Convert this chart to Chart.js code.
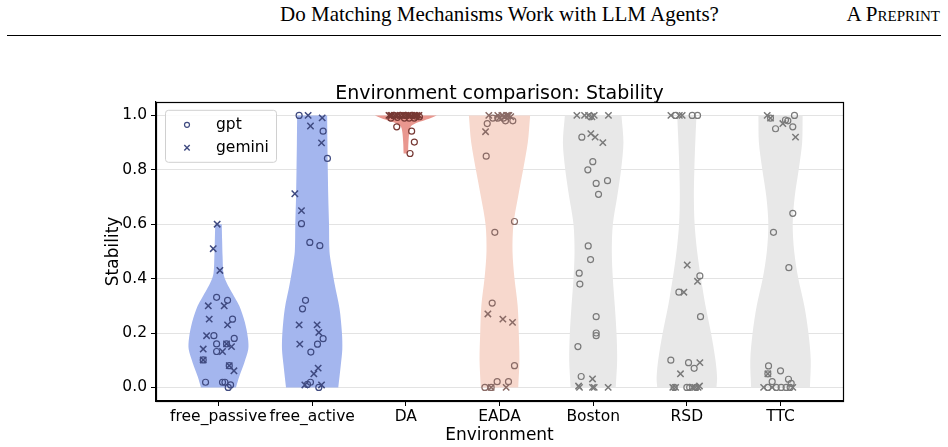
<!DOCTYPE html>
<html>
<head>
<meta charset="utf-8">
<script src="https://cdn.jsdelivr.net/npm/chart.js@4.4.1/dist/chart.umd.min.js"></script>
<style>
  html, body { margin: 0; padding: 0; background: #fff; }
  #page { position: relative; width: 948px; height: 447px; overflow: hidden; }
  #runhead { position: absolute; left: 0; top: 2px; width: 999px; text-align: center;
    font-family: "Liberation Serif", "Times New Roman", serif; font-size: 21px; color: #000; }
  #preprint { position: absolute; right: 8px; top: 2px; font-variant: small-caps;
    font-family: "Liberation Serif", "Times New Roman", serif; font-size: 21px; color: #000; }
  #rule { position: absolute; left: 7px; top: 35px; width: 934px; height: 1px; background: #000; }
  #chart { position: absolute; left: 0; top: 0; }
</style>
</head>
<body>
<div id="page">
  <div id="runhead">Do Matching Mechanisms Work with LLM Agents?</div>
  <div id="preprint">A Preprint</div>
  <div id="rule"></div>
  <canvas id="chart" width="948" height="447"></canvas>
</div>
<script>
// environments on the x axis
const categories = ['free_passive', 'free_active', 'DA', 'EADA', 'Boston', 'RSD', 'TTC'];
const yTicks = [0, 0.2, 0.4, 0.6, 0.8, 1.0];

// violin outlines: [stability, half width in category units]
const violinFreePassive = [[0, 0.187], [0.04, 0.222], [0.09, 0.275], [0.14, 0.318], [0.18, 0.315], [0.24, 0.281],
  [0.30, 0.222], [0.33, 0.175], [0.36, 0.125], [0.39, 0.08], [0.42, 0.053], [0.48, 0.044], [0.54, 0.039], [0.60, 0.035]];
const violinFreeActive = [[0, 0.279], [0.08, 0.305], [0.14, 0.322], [0.2, 0.318], [0.29, 0.292], [0.38, 0.24],
  [0.45, 0.205], [0.5, 0.185], [0.6, 0.18], [0.7, 0.172], [0.8, 0.167], [0.9, 0.163], [1.0, 0.16]];
const violinDA = [[0.86, 0.024], [0.90, 0.028], [0.94, 0.038], [0.96, 0.055], [0.972, 0.11], [0.982, 0.2],
  [0.992, 0.28], [1.0, 0.33]];
const violinEADA = [[0, 0.2], [0.1, 0.213], [0.2, 0.206], [0.3, 0.194], [0.4, 0.16], [0.5, 0.139], [0.6, 0.149],
  [0.7, 0.198], [0.8, 0.252], [0.9, 0.302], [1.0, 0.327]];
const violinBoston = [[0, 0.241], [0.1, 0.256], [0.2, 0.249], [0.3, 0.231], [0.4, 0.21], [0.5, 0.199], [0.6, 0.21],
  [0.7, 0.256], [0.8, 0.298], [0.9, 0.323], [1.0, 0.302]];
const violinRSD = [[0, 0.316], [0.035, 0.323], [0.1, 0.306], [0.2, 0.258], [0.3, 0.199], [0.4, 0.151], [0.5, 0.11],
  [0.6, 0.083], [0.7, 0.075], [0.8, 0.08], [0.9, 0.09], [1.0, 0.103]];
const violinTTC = [[0, 0.314], [0.1, 0.323], [0.2, 0.298], [0.3, 0.254], [0.4, 0.19], [0.5, 0.146], [0.6, 0.13],
  [0.7, 0.151], [0.8, 0.194], [0.9, 0.231], [1.0, 0.236]];

// runs: [jitter offset, stability]
const gptFreePassive = [[-0.02, 0.331], [0.097, 0.32], [0.15, 0.251], [-0.049, 0.19], [0.168, 0.18], [-0.02, 0.16],
  [0.086, 0.16], [-0.02, 0.132], [-0.163, 0.101], [0.115, 0.08], [-0.138, 0.019], [0.043, 0.019], [0.069, 0.019],
  [0.129, 0.009], [0.104, 0.0]];
const geminiFreePassive = [[-0.014, 0.6], [-0.056, 0.51], [0.015, 0.43], [-0.109, 0.30], [0.061, 0.30], [-0.099, 0.251],
  [0.097, 0.23], [-0.127, 0.19], [0.086, 0.16], [0.139, 0.15], [-0.163, 0.141], [0.043, 0.132], [-0.163, 0.101],
  [0.115, 0.08], [0.165, 0.061]];
const gptFreeActive = [[-0.139, 1.0], [0.117, 0.942], [0.163, 0.842], [-0.114, 0.602], [-0.025, 0.533], [0.082, 0.521],
  [-0.071, 0.32], [-0.103, 0.289], [0.117, 0.179], [0.057, 0.159], [-0.014, 0.13], [-0.018, 0.019], [-0.05, 0.011],
  [0.071, 0.0]];
const geminiFreeActive = [[-0.043, 1.0], [0.107, 0.991], [-0.018, 0.961], [0.1, 0.899], [-0.185, 0.712], [-0.114, 0.65],
  [-0.139, 0.23], [0.053, 0.23], [0.071, 0.202], [-0.132, 0.159], [0.064, 0.071], [0.018, 0.05], [-0.078, 0.009],
  [0.1, 0.009]];
const gptDA = [[-0.097, 0.958], [0.062, 0.942], [0.091, 0.902], [0.045, 0.86], [-0.16, 0.99], [-0.13, 1.0],
  [-0.09, 0.993], [-0.015, 0.99], [0.0, 1.0], [0.035, 0.99], [0.07, 1.0], [0.11, 0.997], [0.145, 0.995],
  [-0.06, 1.0], [0.09, 0.99]];
const geminiDA = [[-0.18, 1.0], [-0.15, 1.0], [-0.12, 1.0], [-0.09, 1.0], [-0.06, 1.0], [-0.03, 1.0], [0.0, 1.0],
  [0.03, 1.0], [0.06, 1.0], [0.09, 1.0], [0.12, 1.0], [0.14, 1.0], [-0.16, 1.0], [0.02, 1.0], [0.1, 1.0]];
const gptEADA = [[-0.131, 0.97], [-0.142, 0.85], [0.16, 0.61], [-0.05, 0.57], [-0.078, 0.31], [0.16, 0.08],
  [-0.025, 0.021], [0.096, 0.021], [-0.156, 0.0], [-0.089, 0.0], [-0.071, 0.99], [-0.018, 0.99], [0.043, 0.99],
  [0.064, 0.98], [0.142, 0.98]];
const geminiEADA = [[-0.149, 0.94], [-0.124, 0.27], [0.036, 0.251], [0.139, 0.239], [-0.089, 0.0], [0.071, 0.0],
  [-0.114, 1.0], [-0.018, 1.0], [0.025, 1.0], [0.05, 0.995], [0.075, 1.0], [0.1, 1.0], [0.12, 0.995],
  [-0.005, 0.99], [0.09, 1.0]];
const gptBoston = [[-0.03, 0.995], [-0.121, 0.92], [-0.004, 0.83], [-0.057, 0.8], [0.032, 0.75], [0.153, 0.76],
  [0.057, 0.71], [-0.053, 0.52], [-0.028, 0.47], [-0.149, 0.42], [-0.142, 0.38], [0.032, 0.26], [0.032, 0.2],
  [0.032, 0.19], [-0.163, 0.15], [-0.128, 0.04]];
const geminiBoston = [[-0.174, 1.0], [-0.092, 1.0], [-0.05, 1.0], [-0.014, 0.995], [0.011, 1.0], [0.163, 1.0],
  [-0.025, 0.933], [0.021, 0.92], [0.103, 0.9], [-0.007, 0.031], [-0.156, 0.005], [-0.146, 0.0], [-0.007, 0.0],
  [0.011, 0.0], [0.16, 0.0]];
const gptRSD = [[-0.12, 1.0], [0.057, 1.0], [0.114, 1.0], [0.139, 0.41], [-0.085, 0.35], [0.146, 0.26], [-0.171, 0.1],
  [0.018, 0.091], [0.078, 0.07], [0.0, 0.0], [0.03, 0.0], [0.1, 0.0], [-0.135, 0.0]];
const geminiRSD = [[-0.17, 1.0], [-0.08, 1.0], [-0.05, 1.0], [0.004, 0.45], [0.114, 0.39], [-0.032, 0.35],
  [0.139, 0.091], [-0.068, 0.05], [-0.15, 0.0], [-0.12, 0.0], [0.06, 0.0], [0.09, 0.0], [0.12, 0.0], [0.135, 0.005]];
const gptTTC = [[-0.107, 0.99], [-0.053, 0.951], [0.053, 0.983], [0.078, 0.98], [0.149, 1.0], [0.131, 0.958],
  [0.131, 0.64], [-0.075, 0.57], [0.089, 0.44], [-0.128, 0.079], [-0.135, 0.05], [0.0, 0.061], [-0.089, 0.021],
  [0.085, 0.03], [0.114, 0.015], [-0.135, 0.0], [-0.046, 0.0], [0.007, 0.0], [0.06, 0.0], [0.103, 0.0]];
const geminiTTC = [[-0.142, 1.0], [-0.107, 0.99], [0.025, 0.97], [0.16, 0.92], [-0.135, 0.05], [-0.18, 0.0],
  [-0.089, 0.0], [0.131, 0.0]];

const violins = [violinFreePassive, violinFreeActive, violinDA, violinEADA, violinBoston, violinRSD, violinTTC];
const gptRuns = [gptFreePassive, gptFreeActive, gptDA, gptEADA, gptBoston, gptRSD, gptTTC];
const geminiRuns = [geminiFreePassive, geminiFreeActive, geminiDA, geminiEADA, geminiBoston, geminiRSD, geminiTTC];

// colours
const violinFill = ['#a4b6ee', '#a4b6ee', '#e9978f', '#f7d8cd', '#e8e8e8', '#e8e8e8', '#e8e8e8'];
const markerColor = ['#3f4a80', '#3f4a80', '#773934', '#8a6b66', '#7a7a7a', '#7a7a7a', '#7a7a7a'];

Chart.defaults.font.family = 'DejaVu Sans';
Chart.defaults.color = '#000';

const datasets = [];

// violins go under the points
violins.forEach((prof, i) => {
  const right = prof.map(p => ({x: i + p[1], y: p[0]}));
  const left = prof.slice().reverse().map(p => ({x: i - p[1], y: p[0]}));
  // repeat the top corners so the flat top stays flat
  const outline = right.concat([right[right.length - 1]], [left[0]], left);
  datasets.push({
    label: categories[i],
    data: outline,
    showLine: true,
    fill: 'shape',
    backgroundColor: violinFill[i],
    borderColor: violinFill[i],
    borderWidth: 0,
    pointRadius: 0,
    tension: 0.3,
    order: 2
  });
});

categories.forEach((c, i) => {
  datasets.push({
    label: 'gpt',
    data: gptRuns[i].map(p => ({x: i + p[0], y: p[1]})),
    pointStyle: 'circle',
    pointRadius: 3,
    pointBorderWidth: 1.2,
    pointBorderColor: markerColor[i],
    pointBackgroundColor: 'rgba(0,0,0,0)',
    order: 0
  });
  datasets.push({
    label: 'gemini',
    data: geminiRuns[i].map(p => ({x: i + p[0], y: p[1]})),
    pointStyle: 'crossRot',
    pointRadius: 4.5,
    pointBorderWidth: 1.5,
    pointBorderColor: markerColor[i],
    pointBackgroundColor: markerColor[i],
    order: 0
  });
});

// box round the plot + matplotlib style legend
const frameAndLegend = {
  id: 'frameAndLegend',
  afterDraw(chart) {
    const {ctx, chartArea: a} = chart;
    ctx.save();
    ctx.strokeStyle = '#000';
    ctx.lineWidth = 1.2;
    ctx.strokeRect(Math.round(a.left) + 0.5, Math.round(a.top) + 0.5,
      Math.round(a.right - a.left), Math.round(a.bottom - a.top));

    const lx = a.left + 9, ly = a.top + 8;
    ctx.fillStyle = 'rgba(255,255,255,0.85)';
    ctx.strokeStyle = '#d0d0d0';
    ctx.lineWidth = 1;
    ctx.beginPath();
    ctx.roundRect(lx + 0.5, ly + 0.5, 111, 52, 3);
    ctx.fill();
    ctx.stroke();

    ctx.strokeStyle = markerColor[0];
    ctx.lineWidth = 1.2;
    ctx.beginPath();
    ctx.arc(lx + 22, ly + 15, 2.5, 0, Math.PI * 2);
    ctx.stroke();
    ctx.lineWidth = 1.4;
    ctx.beginPath();
    const cx = lx + 22, cy = ly + 38, d = 2.7;
    ctx.moveTo(cx - d, cy - d); ctx.lineTo(cx + d, cy + d);
    ctx.moveTo(cx - d, cy + d); ctx.lineTo(cx + d, cy - d);
    ctx.stroke();

    ctx.fillStyle = '#000';
    ctx.font = '15.5px "DejaVu Sans"';
    ctx.textBaseline = 'middle';
    ctx.fillText('gpt', lx + 51, ly + 15);
    ctx.fillText('gemini', lx + 51, ly + 38);
    ctx.restore();
  }
};

new Chart(document.getElementById('chart'), {
  type: 'scatter',
  data: {datasets},
  options: {
    responsive: false,
    animation: false,
    layout: {padding: {left: 0, right: 105, top: 0, bottom: 0}},
    plugins: {
      legend: {display: false},
      tooltip: {enabled: false},
      title: {
        display: true,
        fullSize: false,
        text: 'Environment comparison: Stability',
        color: '#000',
        font: {size: 19, weight: 'normal'},
        padding: {top: 83, bottom: -4}
      }
    },
    scales: {
      x: {
        type: 'linear',
        min: -0.667,
        max: 6.667,
        afterBuildTicks: s => { s.ticks = categories.map((c, i) => ({value: i})); },
        afterFit: s => { s.height = 46; },
        ticks: {
          autoSkip: false,
          maxRotation: 0,
          minRotation: 0,
          padding: 2,
          font: {size: 15.5},
          color: '#000',
          callback: (v, i) => categories[i]
        },
        grid: {drawOnChartArea: false, tickLength: 5, tickColor: '#000', tickWidth: 1},
        border: {color: '#000', width: 1.2},
        title: {display: true, text: 'Environment', color: '#000', font: {size: 17}, padding: {top: 0, bottom: 1}}
      },
      y: {
        min: -0.05,
        max: 1.05,
        afterBuildTicks: s => { s.ticks = yTicks.map(v => ({value: v})); },
        afterFit: s => { s.width = 156; },
        ticks: {
          padding: 4,
          font: {size: 15.5},
          color: '#000',
          callback: v => v.toFixed(1)
        },
        grid: {color: '#e3e3e3', lineWidth: 1, tickLength: 5, tickColor: '#000', tickWidth: 1},
        border: {color: '#000', width: 1.2},
        title: {display: true, text: 'Stability', color: '#000', font: {size: 17}, padding: {top: 103, bottom: 0}}
      }
    }
  },
  plugins: [frameAndLegend]
});
</script>
</body>
</html>
